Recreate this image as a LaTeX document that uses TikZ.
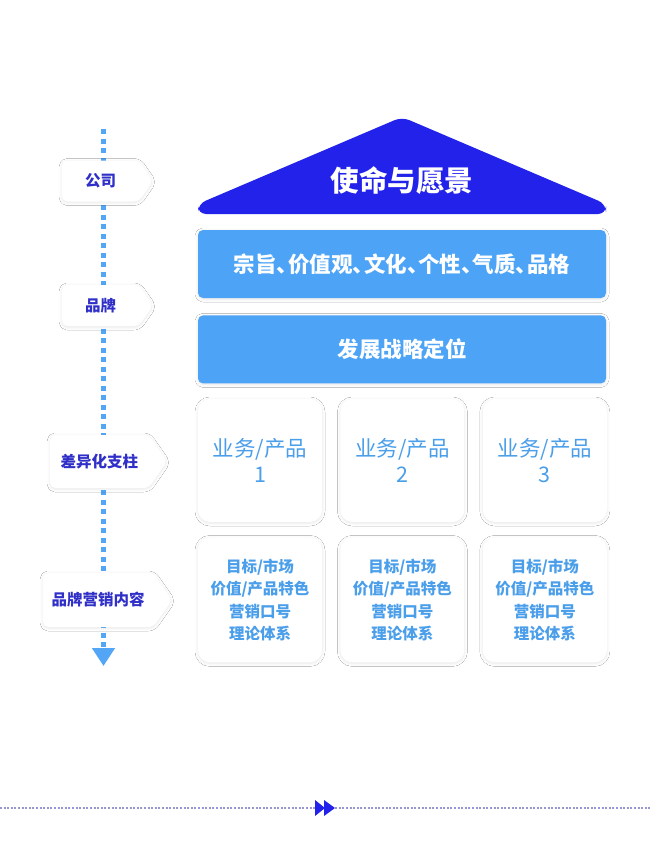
\documentclass[tikz,border=0pt]{standalone}
\usepackage{fontspec}
\setmainfont{Noto Sans CJK SC}
\usetikzlibrary{positioning,shapes.symbols,shadows.blur,arrows.meta}

\definecolor{roofblue}{RGB}{34,34,234}
\definecolor{barblue}{RGB}{77,164,246}
\definecolor{axisblue}{RGB}{82,166,245}
\definecolor{tagink}{RGB}{48,48,200}
\definecolor{cardink}{RGB}{74,158,234}
\definecolor{railgray}{RGB}{150,150,212}
\newcommand{\dun}{、\kern-0.47em}

\begin{document}
\begin{tikzpicture}[
    x=1pt, y=-1pt,
    node distance=17pt,
    softshadow/.style={blur shadow={shadow xshift=0pt, shadow yshift=-1pt, shadow blur radius=3pt, shadow opacity=10}},
    tag/.style={signal, signal to=east, signal pointer angle=110, fill=white, rounded corners=5pt, softshadow,
        text=tagink, font=\fontsize{15.5}{18}\selectfont\bfseries, inner sep=0pt, anchor=west},
    bar/.style={rectangle, rounded corners=5pt, fill=barblue, minimum width=408pt, minimum height=68pt,
        text=white, font=\fontsize{21.5}{24}\selectfont\bfseries, softshadow},
    card/.style={rectangle, rounded corners=12pt, fill=white, softshadow, minimum width=124pt, align=center, text=cardink},
    prodcard/.style={card, minimum height=123pt, font=\fontsize{21.5}{26.5}\selectfont},
    contcard/.style={card, minimum height=125pt, font=\fontsize{15.5}{22.5}\selectfont\bfseries},
    axis/.style={draw=axisblue, line width=5pt, dash pattern=on 5pt off 4.5pt, -{Triangle[length=18pt,width=22pt]}},
    rail/.style={draw=railgray, line width=1.6pt, dash pattern=on 2pt off 1.6pt},
    ffw/.style={minimum width=20pt, minimum height=16pt, inner sep=0pt, path picture={
        \fill[roofblue] (path picture bounding box.north west) -- ([xshift=10pt]path picture bounding box.west)
            -- (path picture bounding box.south west) -- cycle;
        \fill[roofblue] ([xshift=9pt]path picture bounding box.north west) -- (path picture bounding box.east)
            -- ([xshift=9pt]path picture bounding box.south west) -- cycle;}}
]
    \useasboundingbox (0,0) rectangle (650,867);
    \fill[white] (0,0) rectangle (650,867);

    % --- LEFT: LEVEL AXIS ---
    \coordinate (axtop) at (103.5,129);
    \coordinate (axbot) at (103.5,666);
    \draw[axis] (axtop) -- (axbot);

    \node[tag, minimum width=91pt, minimum height=41pt] (company) at (62,181) {公司};
    \node[tag, minimum width=91pt, minimum height=41pt] (brand) at (62,305.5) {品牌};
    \node[tag, minimum width=117pt, minimum height=53pt] (pillar) at (50,461.5) {差异化支柱};
    \node[tag, minimum width=129pt, minimum height=54pt] (content) at (43,600) {品牌营销内容};

    % --- RIGHT: BRAND HOUSE ---
    % roof
    \fill[roofblue, rounded corners=8pt] (198,214) -- (198,204) -- (402,117) -- (606,204) -- (606,214) -- cycle;
    \node[text=white, font=\fontsize{28.5}{32}\selectfont\bfseries] (mission) at (402,181) {使命与愿景};

    % beams
    \node[bar] (ethos) at (402,264) {宗旨\dun 价值观\dun 文化\dun 个性\dun 气质\dun 品格};
    \node[bar, below=of ethos] (strategy) {发展战略定位};

    % pillars
    \node[prodcard] (prod1) at (260,460.5) {业务/产品\\1};
    \node[prodcard, right=18pt of prod1] (prod2) {业务/产品\\2};
    \node[prodcard, right=18pt of prod2] (prod3) {业务/产品\\3};

    % foundation
    \node[contcard, below=15pt of prod1] (cont1) {目标/市场\\价值/产品特色\\营销口号\\理论体系};
    \node[contcard, below=15pt of prod2] (cont2) {目标/市场\\价值/产品特色\\营销口号\\理论体系};
    \node[contcard, below=15pt of prod3] (cont3) {目标/市场\\价值/产品特色\\营销口号\\理论体系};

    % --- FOOTER RAIL ---
    \coordinate (railL) at (0,808);
    \coordinate (railR) at (650,808);
    \node[ffw] (next) at (325,808) {};
    \draw[rail] (railL) -- (next.west);
    \draw[rail] (next.east) -- (railR);
\end{tikzpicture}
\end{document}
